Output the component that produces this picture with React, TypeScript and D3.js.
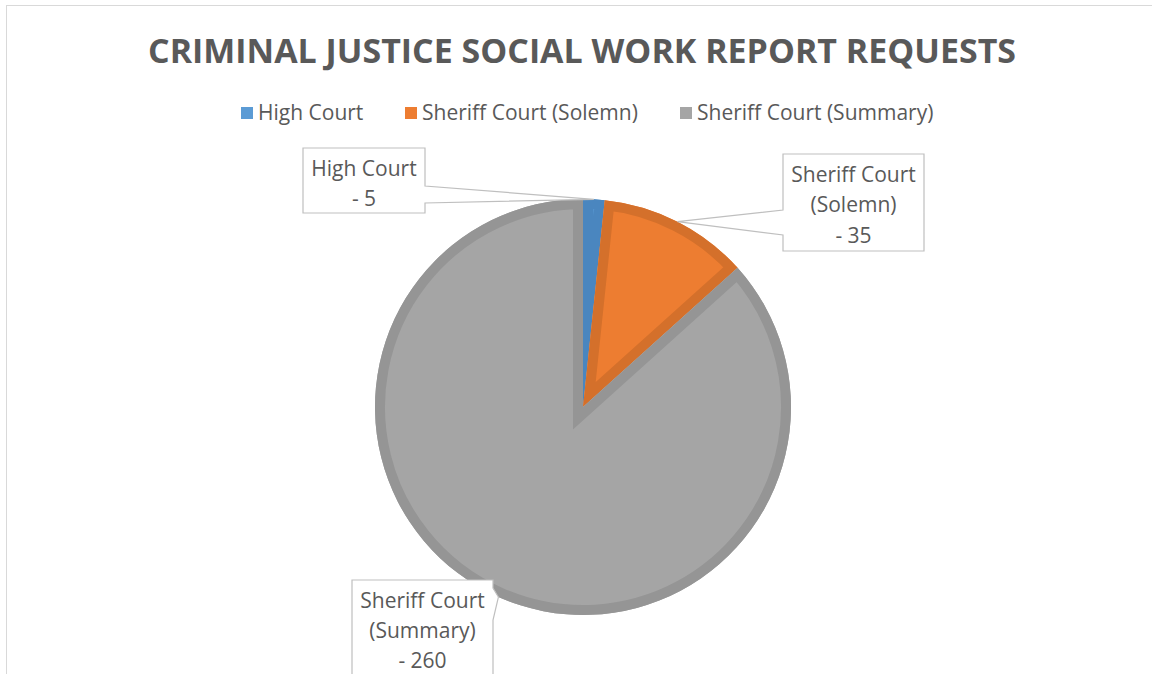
import * as d3 from 'd3';

const categories = ['High Court', 'Sheriff Court (Solemn)', 'Sheriff Court (Summary)'];
const values = [5, 35, 260];
const fills = ['#5b9bd5', '#ed7d31', '#a5a5a5'];
const borders = ['#4a86bf', '#d4702b', '#959595'];

const title = 'CRIMINAL JUSTICE SOCIAL WORK REPORT REQUESTS';

// callout boxes (layout only)
const callouts = [
  { x: 303, y: 148, w: 122, h: 65, side: 'right', a1: 186, a2: 203, lines: [176, 206] },
  { x: 783, y: 154, w: 141, h: 97, side: 'left', a1: 210, a2: 235, lines: [182, 212, 243] },
  { x: 352, y: 580, w: 141, h: 110, side: 'right', a1: 588, a2: 620, lines: [608, 638, 668] },
];
const legendX = [241, 405, 680];

const W = 1152;
const H = 674;
const cx = 583;
const cy = 407;
const R = 208;
const inset = 10;
const font = '"Open Sans", sans-serif';
const textColor = '#595959';
const labelSize = 21;

function labelLines(name: string, v: number) {
  const m = name.match(/^(.*?) (\(.*\))$/);
  const parts = m ? [m[1], m[2]] : [name];
  return [...parts, `- ${v}`];
}

function calloutPath(c: typeof callouts[number], tip: [number, number]) {
  const { x, y, w, h, side, a1, a2 } = c;
  const r = x + w;
  if (side === 'right') {
    return `M${x},${y}H${r}V${a1}L${tip[0]},${tip[1]}L${r},${a2}V${y + h}H${x}Z`;
  }
  return `M${x},${y}H${r}V${y + h}H${x}V${a2}L${tip[0]},${tip[1]}L${x},${a1}Z`;
}

export default function App() {
  const pie = d3.pie<number>().sort(null).value((d) => d);
  const arcs = pie(values);
  const arc = d3.arc<d3.PieArcDatum<number>>().innerRadius(0).outerRadius(R);
  const edge = d3.arc<d3.PieArcDatum<number>>().innerRadius(R).outerRadius(R);

  return (
    <svg
      width={W}
      height={H}
      style={{ position: 'absolute', left: 0, top: 0, background: '#fff' }}
    >
      <rect x={6.5} y={5.5} width={W} height={H + 20} fill="#fff" stroke="#d9d9d9" />
      <text
        x={582}
        y={63}
        textAnchor="middle"
        fontFamily={font}
        fontWeight={700}
        fontSize={34}
        fill={textColor}
        textLength={868}
        lengthAdjust="spacingAndGlyphs"
      >
        {title}
      </text>

      <g fontFamily={font} fontSize={labelSize} fill={textColor}>
        {categories.map((c, i) => (
          <g key={c}>
            <rect x={legendX[i]} y={107} width={12} height={12} fill={fills[i]} />
            <text x={legendX[i] + 17} y={120}>
              {c}
            </text>
          </g>
        ))}
      </g>

      <defs>
        {arcs.map((a, i) => (
          <clipPath key={i} id={`clip-${i}`}>
            <path d={arc(a) ?? ''} />
          </clipPath>
        ))}
      </defs>

      <g transform={`translate(${cx},${cy})`}>
        {arcs.map((a, i) => (
          <g key={i}>
            <path d={arc(a) ?? ''} fill={fills[i]} />
            <path
              d={arc(a) ?? ''}
              fill="none"
              stroke={borders[i]}
              strokeWidth={inset * 2}
              strokeLinejoin="miter"
              strokeMiterlimit={10}
              clipPath={`url(#clip-${i})`}
            />
          </g>
        ))}
      </g>

      <g fontFamily={font} fontSize={labelSize} fill={textColor}>
        {arcs.map((a, i) => {
          const c = callouts[i];
          const p = edge.centroid(a);
          const tip: [number, number] = [cx + p[0], cy + p[1]];
          const lines = labelLines(categories[i], values[i]);
          return (
            <g key={i}>
              <path d={calloutPath(c, tip)} fill="#fff" stroke="#bfbfbf" strokeWidth={1.2} />
              {lines.map((t, j) => (
                <text key={j} x={c.x + c.w / 2} y={c.lines[j]} textAnchor="middle">
                  {t}
                </text>
              ))}
            </g>
          );
        })}
      </g>
    </svg>
  );
}
